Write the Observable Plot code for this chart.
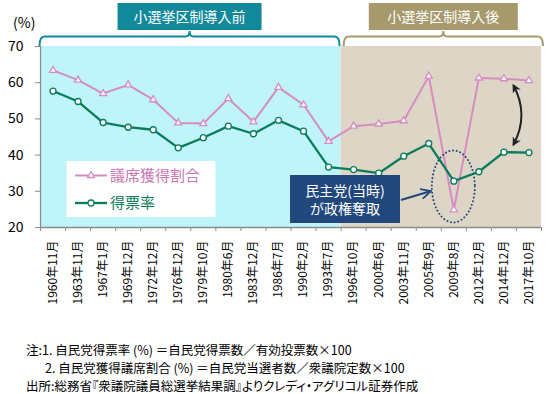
<!DOCTYPE html>
<html><head><meta charset="utf-8">
<script src="https://cdn.jsdelivr.net/npm/d3@7"></script>
<script src="https://cdn.jsdelivr.net/npm/@observablehq/plot@0.6"></script>
<style>
body{margin:0;background:#fff;font-family:"Noto Sans CJK JP",sans-serif;}
#wrap{position:relative;width:550px;height:394px;overflow:hidden;}
#chart{position:absolute;left:0;top:0;}
#notes{position:absolute;left:26px;top:341px;font-size:12.5px;line-height:18px;color:#000;white-space:nowrap;font-feature-settings:"palt";}
#notes div{height:18px;}
#notes .ind{padding-left:19px;}
</style></head><body>
<div id="wrap"><div id="chart"></div>
<div id="notes">
<div>注:1. 自民党得票率 (%) ＝自民党得票数／有効投票数×100</div>
<div class="ind">2. 自民党獲得議席割合 (%) ＝自民党当選者数／衆議院定数×100</div>
<div>出所:総務省『衆議院議員総選挙結果調』よりクレディ・アグリコル証券作成</div>
</div></div>
<script>
const categories = ["1960年11月","1963年11月","1967年1月","1969年12月","1972年12月","1976年12月","1979年10月","1980年6月","1983年12月","1986年7月","1990年2月","1993年7月","1996年10月","2000年6月","2003年11月","2005年9月","2009年8月","2012年12月","2014年12月","2017年10月"];
const seatShare = [63.4,60.7,57.0,59.4,55.3,48.9,48.7,55.6,49.2,58.7,53.9,43.8,48.0,48.6,49.5,61.8,24.9,61.3,61.1,60.6];
const voteShare = [57.7,54.8,49.0,47.7,47.0,42.0,44.8,48.0,45.9,49.6,46.6,36.7,36.0,35.0,39.7,43.2,32.8,35.4,40.8,40.7];
const yTicks = [20,30,40,50,60,70];
const seriesNames = ["議席獲得割合","得票率"];
const eraLabels = ["小選挙区制導入前","小選挙区制導入後"];
const eraFrom = ["1960年11月","1996年10月"];
const eraTo = ["1993年7月","2017年10月"];
const annotationText = ["民主党(当時)","が政権奪取"];

const C = {
  pink:"#D68CC1", pinkText:"#CC76B4", green:"#0A7C5A",
  bg:["#BEF4FA","#DDD6C7"], banner:["#12899A","#A69A6C"],
  axis:"#8C8C8C", box:"#21487C", dots:"#2E4A7A"
};

const rows = categories.map((c,i)=>({i, x:i+0.5, label:c, seat:seatShare[i], vote:voteShare[i]}));
const eras = eraLabels.map((l,k)=>({label:l, x1:categories.indexOf(eraFrom[k]), x2:categories.indexOf(eraTo[k])+1, k}));
const yDom = [d3.min(yTicks), d3.max(yTicks)];

const chart = Plot.plot({
  width:550, height:330,
  marginTop:46, marginBottom:103, marginLeft:40, marginRight:9,
  style:{fontFamily:"'Noto Sans CJK JP',sans-serif", background:"transparent", color:"#000"},
  x:{type:"linear", domain:[0, categories.length], axis:null},
  y:{domain:yDom, axis:null},
  marks:[
    Plot.rect(eras,{x1:"x1", x2:"x2", y1:()=>yDom[0], y2:()=>yDom[1], fill:d=>C.bg[d.k]}),
    Plot.ruleX([0],{stroke:C.axis, strokeWidth:1.3}),
    Plot.ruleY([yDom[0]],{stroke:C.axis, strokeWidth:1.3}),
    Plot.axisY({ticks:yTicks, tickSize:5, tickPadding:12, fontSize:14, stroke:C.axis, label:null}),
    Plot.axisX({ticks:d3.range(0, categories.length+1), tickSize:4, tickFormat:()=>"", stroke:C.axis, label:null}),
    Plot.axisX({ticks:rows.map(d=>d.x), tickSize:0, tickPadding:13, tickRotate:-90, fontSize:12,
      tickFormat:v=>categories[Math.floor(v)], label:null}),
    Plot.lineY(rows,{x:"x", y:"seat", stroke:C.pink, strokeWidth:2}),
    Plot.dot(rows,{x:"x", y:"seat", symbol:"triangle", r:2.6, fill:"white", stroke:C.pink, strokeWidth:1.3}),
    Plot.lineY(rows,{x:"x", y:"vote", stroke:C.green, strokeWidth:2.3}),
    Plot.dot(rows,{x:"x", y:"vote", symbol:"circle", r:3, fill:"white", stroke:C.green, strokeWidth:1.3})
  ]
});
document.getElementById("chart").appendChild(chart);

const sx = chart.scale("x").apply, sy = chart.scale("y").apply;
const svg = d3.select(chart);
const defs = svg.append("defs");
defs.append("marker").attr("id","ah").attr("viewBox","0 0 10 10").attr("refX",8).attr("refY",5)
  .attr("markerWidth",4.5).attr("markerHeight",4.5).attr("orient","auto-start-reverse")
  .append("path").attr("d","M0,0 L10,5 L0,10 L3,5 Z").attr("fill","#222");
defs.append("marker").attr("id","oh").attr("viewBox","0 0 12 12").attr("refX",11).attr("refY",6)
  .attr("markerWidth",12).attr("markerHeight",12).attr("markerUnits","userSpaceOnUse").attr("orient","auto")
  .append("path").attr("d","M1,1 L11,6 L1,11").attr("fill","none").attr("stroke",C.box).attr("stroke-width",1.8);

// braces + banners
const frameTop = sy(yDom[1]);
eras.forEach((e,k)=>{
  const x0 = sx(e.x1) + (k===0 ? -0.5 : 3), x1 = sx(e.x2) + (k===0 ? -1 : 2);
  const xm = (x0+x1)/2, yb = frameTop-9.5, yt = frameTop-15;
  svg.append("path")
    .attr("d",`M${x0},${frameTop} Q${x0},${yb} ${x0+5},${yb} L${xm-4},${yb} Q${xm},${yb} ${xm},${yt} Q${xm},${yb} ${xm+4},${yb} L${x1-5},${yb} Q${x1},${yb} ${x1},${frameTop}`)
    .attr("fill","none").attr("stroke",C.banner[k]).attr("stroke-width",2);
  const w = k===0 ? 144 : 149;
  svg.append("rect").attr("x",xm-w/2).attr("y",3).attr("width",w).attr("height",27).attr("fill",C.banner[k]);
  svg.append("text").attr("x",xm).attr("y",17).attr("dy","0.35em").attr("text-anchor","middle")
    .attr("fill","white").attr("font-size",14).text(e.label);
});
svg.append("text").attr("x",13).attr("y",23).attr("dy","0.35em").attr("text-anchor","start").attr("font-size",14).text("(%)");

// legend
const lg = svg.append("g");
lg.append("rect").attr("x",66.5).attr("y",161).attr("width",149).attr("height",56).attr("fill","white");
[[C.pink,C.pinkText,175.5,d3.symbolTriangle,2.6],[C.green,C.green,203,d3.symbolCircle,3]].forEach(([c,tc,y,sym,r],k)=>{
  lg.append("line").attr("x1",75).attr("x2",107).attr("y1",y).attr("y2",y).attr("stroke",c).attr("stroke-width",k?2.3:2);
  lg.append("path").attr("d",d3.symbol(sym, Math.PI*r*r)()).attr("transform",`translate(91,${y})`)
    .attr("fill","white").attr("stroke",c).attr("stroke-width",1.3);
  lg.append("text").attr("x",110).attr("y",y).attr("dy","0.35em").attr("text-anchor","start").attr("font-size",15).attr("fill",tc).text(seriesNames[k]);
});

// annotation box
svg.append("rect").attr("x",290).attr("y",175).attr("width",110).attr("height",48).attr("fill",C.box);
annotationText.forEach((t,k)=>svg.append("text").attr("x",345).attr("y",191+k*18.5).attr("dy","0.35em")
  .attr("text-anchor","middle").attr("fill","white").attr("font-size",14).text(t));
svg.append("line").attr("x1",401).attr("y1",200).attr("x2",431).attr("y2",191)
  .attr("stroke",C.box).attr("stroke-width",2).attr("marker-end","url(#oh)");

// dotted ellipse around 2009
const i09 = categories.indexOf("2009年8月");
svg.append("ellipse").attr("cx",sx(i09+0.5)).attr("cy",sy(31.2)).attr("rx",21.5).attr("ry",36)
  .attr("fill","none").attr("stroke",C.dots).attr("stroke-width",2).attr("stroke-dasharray","0.1,3.6").attr("stroke-linecap","round");

// double-headed curved arrow
const i14 = categories.indexOf("2014年12月");
const ax = sx(i14+0.5)+10;
svg.append("path").attr("d",`M${ax},${sy(seatShare[i14])+7} Q${ax+16},${(sy(seatShare[i14])+sy(voteShare[i14]))/2} ${ax},${sy(voteShare[i14])-7}`)
  .attr("fill","none").attr("stroke","#222").attr("stroke-width",2)
  .attr("marker-start","url(#ah)").attr("marker-end","url(#ah)");
</script>
</body></html>
